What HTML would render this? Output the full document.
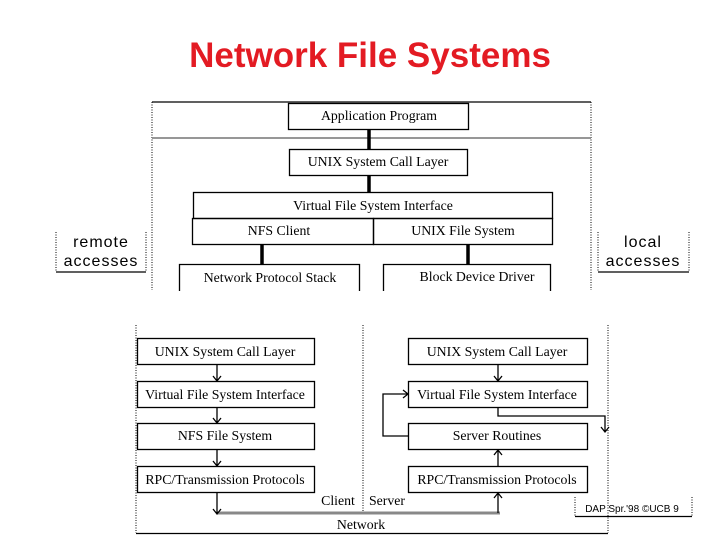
<!DOCTYPE html>
<html><head><style>body{margin:0;background:#fff}svg{display:block}</style></head><body>
<svg width="720" height="540" xmlns="http://www.w3.org/2000/svg" font-family="Liberation Serif, serif" font-size="13.8">
<text x="370" y="67" text-anchor="middle" font-family="Liberation Sans, sans-serif" font-weight="bold" font-size="35" fill="#e31b23">Network File Systems</text>
<!-- top panel -->
<g fill="none" stroke="#000" stroke-width="1.3">
<line x1="152" y1="102" x2="591" y2="102"/>
<line x1="152" y1="102" x2="152" y2="290" stroke-dasharray="1,1.5" stroke-width="1"/>
<line x1="591" y1="102" x2="591" y2="290" stroke-dasharray="1,1.5" stroke-width="1"/>
<line x1="152" y1="138" x2="591" y2="138" stroke="#888" stroke-width="1.8"/>
<rect x="288.5" y="103.5" width="180" height="26"/>
<rect x="289.5" y="149.5" width="178" height="26"/>
<rect x="193.5" y="192.5" width="359" height="26"/>
<rect x="192.5" y="218.5" width="181" height="26"/>
<rect x="373.5" y="218.5" width="179" height="26"/>
<path d="M179.5 291V264.5H359.5V291"/>
<path d="M383.5 291V264.5H550.5V291"/>
<g stroke-width="3.5"><line x1="369" y1="130" x2="369" y2="149"/><line x1="369" y1="176" x2="369" y2="192"/><line x1="262" y1="245" x2="262" y2="264"/><line x1="468" y1="245" x2="468" y2="264"/></g>
<path d="M56 232V272M146 232V272" stroke-dasharray="1,1.5" stroke-width="1"/><line x1="56" y1="272" x2="146" y2="272"/>
<path d="M598 232V272M689 232V272" stroke-dasharray="1,1.5" stroke-width="1"/><line x1="598" y1="272" x2="689" y2="272"/>
</g>
<g text-anchor="middle">
<text x="379" y="120">Application Program</text>
<text x="378" y="166">UNIX System Call Layer</text>
<text x="373" y="210">Virtual File System Interface</text>
<text x="279" y="235">NFS Client</text>
<text x="463" y="235">UNIX File System</text>
<text x="270" y="282">Network Protocol Stack</text>
<text x="477" y="281">Block Device Driver</text>
<g font-family="Liberation Sans, sans-serif" font-size="16" letter-spacing="1">
<text x="101" y="247">remote</text><text x="101" y="266">accesses</text>
<text x="643" y="247">local</text><text x="643" y="266">accesses</text></g>
</g>
<!-- bottom panel -->
<g fill="none" stroke="#000" stroke-width="1.3">
<line x1="136" y1="325" x2="136" y2="533" stroke-dasharray="1,1.5" stroke-width="1"/>
<line x1="608" y1="325" x2="608" y2="533" stroke-dasharray="1,1.5" stroke-width="1"/>
<line x1="363" y1="325" x2="363" y2="515" stroke-dasharray="1,1.5" stroke-width="1"/>
<line x1="136" y1="533.5" x2="608" y2="533.5"/>
<rect x="137.5" y="338.5" width="177" height="26"/><rect x="137.5" y="381.5" width="177" height="26"/>
<rect x="137.5" y="423.5" width="177" height="26"/><rect x="137.5" y="466.5" width="177" height="26"/>
<rect x="408.5" y="338.5" width="179" height="26"/><rect x="408.5" y="381.5" width="179" height="26"/>
<rect x="408.5" y="423.5" width="179" height="26"/><rect x="408.5" y="466.5" width="179" height="26"/>
<line x1="217" y1="513" x2="500" y2="513" stroke="#888" stroke-width="3"/>
<path d="M217 365V381M213 376l4 5 4-5M217 408V423M213 418l4 5 4-5M217 450V466M213 461l4 5 4-5M217 493V514M213 509l4 5 4-5"/>
<path d="M498 365V381M494 376l4 5 4-5M498 466V450M494 455l4-5 4 5M498 513V493M494 498l4-5 4 5"/>
<path d="M408 436H383V394H408M403 390l5 4-5 4"/>
<path d="M498 408V416H605V432M601 427l4 5 4-5"/>
<path d="M575 497V516M692 497V516" stroke-dasharray="1,1.5" stroke-width="1"/><line x1="575" y1="516.5" x2="692" y2="516.5"/>
</g>
<g text-anchor="middle">
<text x="225" y="356">UNIX System Call Layer</text><text x="225" y="399">Virtual File System Interface</text>
<text x="225" y="440">NFS File System</text><text x="225" y="484">RPC/Transmission Protocols</text>
<text x="497" y="356">UNIX System Call Layer</text><text x="497" y="399">Virtual File System Interface</text>
<text x="497" y="440">Server Routines</text><text x="497" y="484">RPC/Transmission Protocols</text>
<text x="338" y="505">Client</text><text x="387" y="505">Server</text>
<text x="361" y="529">Network</text>
<text x="632" y="512" font-family="Liberation Sans, sans-serif" font-size="10">DAP Spr.'98 ©UCB 9</text>
</g>
</svg>
</body></html>
